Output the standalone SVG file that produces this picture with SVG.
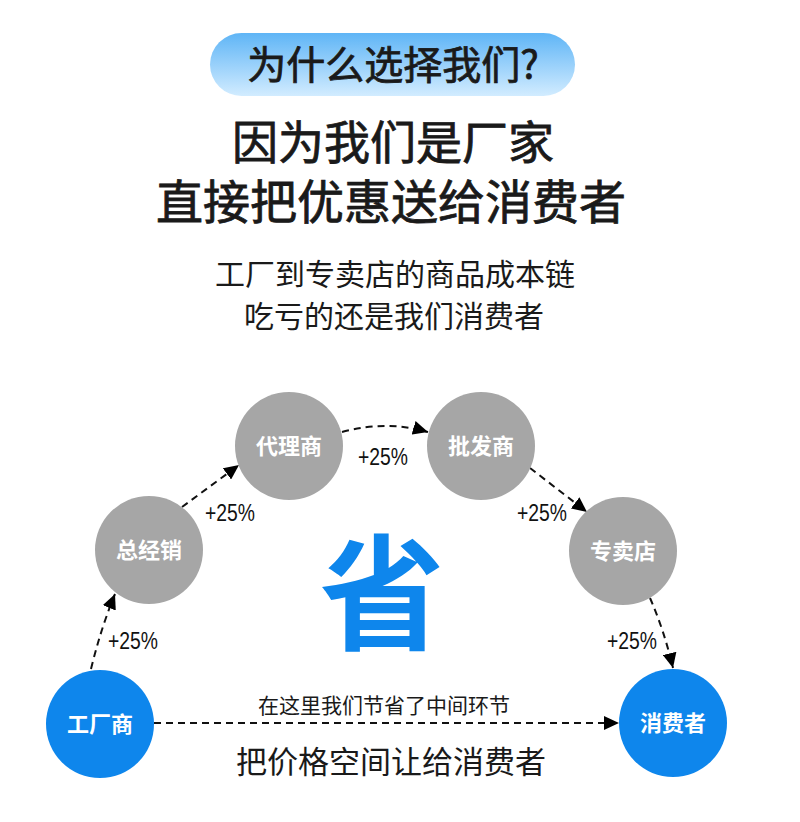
<svg xmlns="http://www.w3.org/2000/svg" width="800" height="822" viewBox="0 0 800 822">
<defs>
<linearGradient id="pill" x1="0" y1="0" x2="0" y2="1">
<stop offset="0" stop-color="#5fb5f6"/>
<stop offset="0.55" stop-color="#9ed3fb"/>
<stop offset="1" stop-color="#d2ecff"/>
</linearGradient>
<marker id="arr" markerUnits="userSpaceOnUse" markerWidth="16" markerHeight="14" refX="15" refY="7" orient="auto">
<path d="M0,0 L15,7 L0,14 z" fill="#000"/>
</marker>
<style>
.cjk{font-family:"Noto Sans CJK SC","Noto Sans",sans-serif;}
.hd{fill:#1a1a1a;text-anchor:middle;}
.med{stroke:#1a1a1a;stroke-width:0.8;}
.gray{fill:#a6a6a6;}
.blue{fill:#0e86ec;}
.lbl{fill:#fff;font-weight:bold;font-size:22px;text-anchor:middle;}
.pct{font-family:"Liberation Sans",Arial,sans-serif;font-size:24px;fill:#111;text-anchor:middle;}
.con{fill:none;stroke:#111;stroke-width:2;stroke-dasharray:7,5;marker-end:url(#arr);}
</style>
</defs>
<rect width="800" height="822" fill="#fff"/>

<g id="header">
<rect x="210" y="33" width="365" height="63" rx="31.5" fill="url(#pill)"/>
<text class="cjk hd med" x="393" y="79" font-size="39">为什么选择我们?</text>
<text class="cjk hd med" x="393" y="159" font-size="46">因为我们是厂家</text>
<text class="cjk hd med" x="391" y="219" font-size="47">直接把优惠送给消费者</text>
<text class="cjk hd" x="395" y="285" font-size="30">工厂到专卖店的商品成本链</text>
<text class="cjk hd" x="394" y="327" font-size="30">吃亏的还是我们消费者</text>
</g>

<g id="connectors">
<path class="con" d="M91,669 Q101,628 115,594"/>
<path class="con" d="M182,507 L239,465"/>
<path class="con" d="M342,432 Q387,420 428,432"/>
<path class="con" d="M530,468 L587,512"/>
<path class="con" d="M650,598 Q664,630 673,668"/>
<path class="con" d="M154,723 L619,723"/>
</g>

<g id="labels">
<text class="pct" x="133" y="649" textLength="50" lengthAdjust="spacingAndGlyphs">+25%</text>
<text class="pct" x="230" y="521" textLength="50" lengthAdjust="spacingAndGlyphs">+25%</text>
<text class="pct" x="383" y="465" textLength="50" lengthAdjust="spacingAndGlyphs">+25%</text>
<text class="pct" x="542" y="521" textLength="50" lengthAdjust="spacingAndGlyphs">+25%</text>
<text class="pct" x="632" y="649" textLength="50" lengthAdjust="spacingAndGlyphs">+25%</text>
<text class="cjk hd" x="384" y="713" font-size="21">在这里我们节省了中间环节</text>
<text class="cjk hd" x="391" y="773" font-size="31">把价格空间让给消费者</text>
<text class="cjk" x="382" y="640" font-size="125" font-weight="bold" fill="#0e86ec" text-anchor="middle">省</text>
</g>

<g id="node-factory">
<circle class="blue" cx="100" cy="724" r="54"/>
<text class="cjk lbl" x="100" y="732">工厂商</text>
</g>
<g id="node-general">
<circle class="gray" cx="149" cy="550" r="54"/>
<text class="cjk lbl" x="149" y="558">总经销</text>
</g>
<g id="node-agent">
<circle class="gray" cx="289" cy="446" r="54"/>
<text class="cjk lbl" x="289" y="454">代理商</text>
</g>
<g id="node-wholesale">
<circle class="gray" cx="481" cy="446" r="54"/>
<text class="cjk lbl" x="481" y="454">批发商</text>
</g>
<g id="node-store">
<circle class="gray" cx="623" cy="551" r="54"/>
<text class="cjk lbl" x="623" y="559">专卖店</text>
</g>
<g id="node-consumer">
<circle class="blue" cx="673" cy="723" r="54"/>
<text class="cjk lbl" x="673" y="731">消费者</text>
</g>
</svg>
